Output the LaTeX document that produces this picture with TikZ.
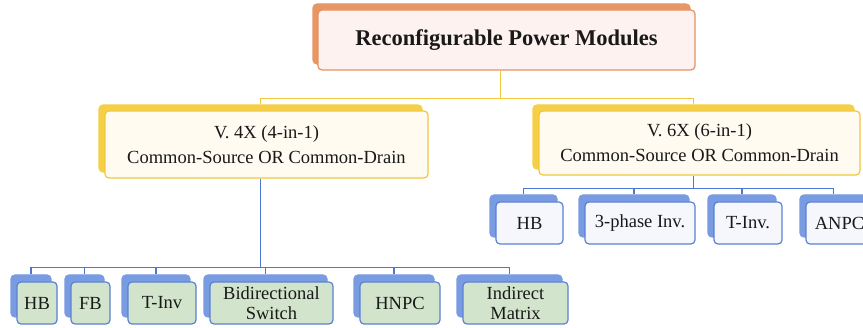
\documentclass[tikz,border=0pt]{standalone}
\usepackage{fontspec}
\setmainfont{Liberation Serif}
\usetikzlibrary{shadows,calc}
\definecolor{orsh}{RGB}{232,150,100}
\definecolor{orfill}{RGB}{253,242,239}
\definecolor{ordraw}{RGB}{228,145,100}
\definecolor{yesh}{RGB}{245,208,70}
\definecolor{yefill}{RGB}{255,251,241}
\definecolor{yedraw}{RGB}{240,200,60}
\definecolor{yeline}{RGB}{245,200,60}
\definecolor{blline}{RGB}{75,120,210}
\definecolor{blsh}{RGB}{120,155,225}
\definecolor{gnfill}{RGB}{210,228,203}
\definecolor{bldraw}{RGB}{90,130,210}
\definecolor{wtfill}{RGB}{245,247,253}
\definecolor{txt}{RGB}{25,25,25}
\tikzset{
  basebox/.style={rounded corners=4pt, line width=1.2pt, inner sep=0pt, align=center, text=txt},
  topbox/.style={basebox, fill=orfill, draw=ordraw, font=\fontsize{22.5}{26}\selectfont\bfseries,
     copy shadow={shadow xshift=-5pt, shadow yshift=6pt, fill=orsh, draw=orsh}},
  midbox/.style={basebox, fill=yefill, draw=yedraw, font=\fontsize{18.5}{25}\selectfont,
     copy shadow={shadow xshift=-6pt, shadow yshift=6pt, fill=yesh, draw=yesh}},
  greenbox/.style={basebox, fill=gnfill, draw=bldraw, minimum height=42pt, font=\fontsize{18.5}{19.5}\selectfont,
     copy shadow={shadow xshift=-6pt, shadow yshift=7pt, fill=blsh, draw=blsh}},
  whitebox/.style={basebox, fill=wtfill, draw=bldraw, minimum height=42pt, font=\fontsize{18.5}{19.5}\selectfont,
     copy shadow={shadow xshift=-6pt, shadow yshift=7pt, fill=blsh, draw=blsh}},
  yline/.style={draw=yeline, line width=1.5pt},
  bline/.style={draw=blline, line width=1.5pt},
}
\begin{document}
\begin{tikzpicture}[x=1pt,y=-1pt]
\useasboundingbox (0,0) rectangle (863,328);
\clip (0,0) rectangle (863,328);
\fill[white] (0,0) rectangle (863,328);

\node[topbox, minimum width=377pt, minimum height=60pt] (top) at (506.5,40) {Reconfigurable Power Modules};
\node[midbox, minimum width=323pt, minimum height=67pt] (v4) at (266.5,144.5) {V. 4X (4-in-1)\\Common-Source OR Common-Drain};
\node[midbox, minimum width=321pt, minimum height=64pt] (v6) at (699.5,143) {V. 6X (6-in-1)\\Common-Source OR Common-Drain};

\node[greenbox, minimum width=40pt] (hba) at (37,303) {HB};
\node[greenbox, minimum width=39pt] (fba) at (90.5,303) {FB};
\node[greenbox, minimum width=68pt] (tia) at (162,303) {T-Inv};
\node[greenbox, minimum width=123pt] (bid) at (271.5,303) {Bidirectional\\Switch};
\node[greenbox, minimum width=80pt] (hnpc) at (400,303) {HNPC};
\node[greenbox, minimum width=105pt] (ind) at (515.5,303) {Indirect\\Matrix};

\node[whitebox, minimum width=67pt] (hbb) at (529.5,223) {HB};
\node[whitebox, minimum width=110pt] (tph) at (640,223) {3-phase Inv.};
\node[whitebox, minimum width=68pt] (tib) at (748,223) {T-Inv.};
\node[whitebox, minimum width=67pt] (anpc) at (839.5,223) {ANPC};

% yellow connectors
\coordinate (ybus) at ($(top.south)+(-6,28)$);
\draw[yline] ([xshift=-6pt]top.south) -- (ybus);
\draw[yline] (ybus) -| ([xshift=-6pt,yshift=6pt]v4.north);
\draw[yline] (ybus) -| ([xshift=-6pt,yshift=6pt]v6.north);

% left blue connectors
\coordinate (lbus) at ($(v4.south)+(-6,89)$);
\draw[bline] ([xshift=-6pt]v4.south) -- (lbus);
\foreach \n in {hba,fba,tia,bid,hnpc,ind}
  \draw[bline] (lbus) -| ([xshift=-6pt,yshift=7pt]\n.north);

% right blue connectors
\coordinate (rbus) at ($(v6.south)+(-6,13)$);
\draw[bline] ([xshift=-6pt]v6.south) -- (rbus);
\foreach \n in {hbb,tph,tib,anpc}
  \draw[bline] (rbus) -| ([xshift=-6pt,yshift=7pt]\n.north);
\end{tikzpicture}
\end{document}
